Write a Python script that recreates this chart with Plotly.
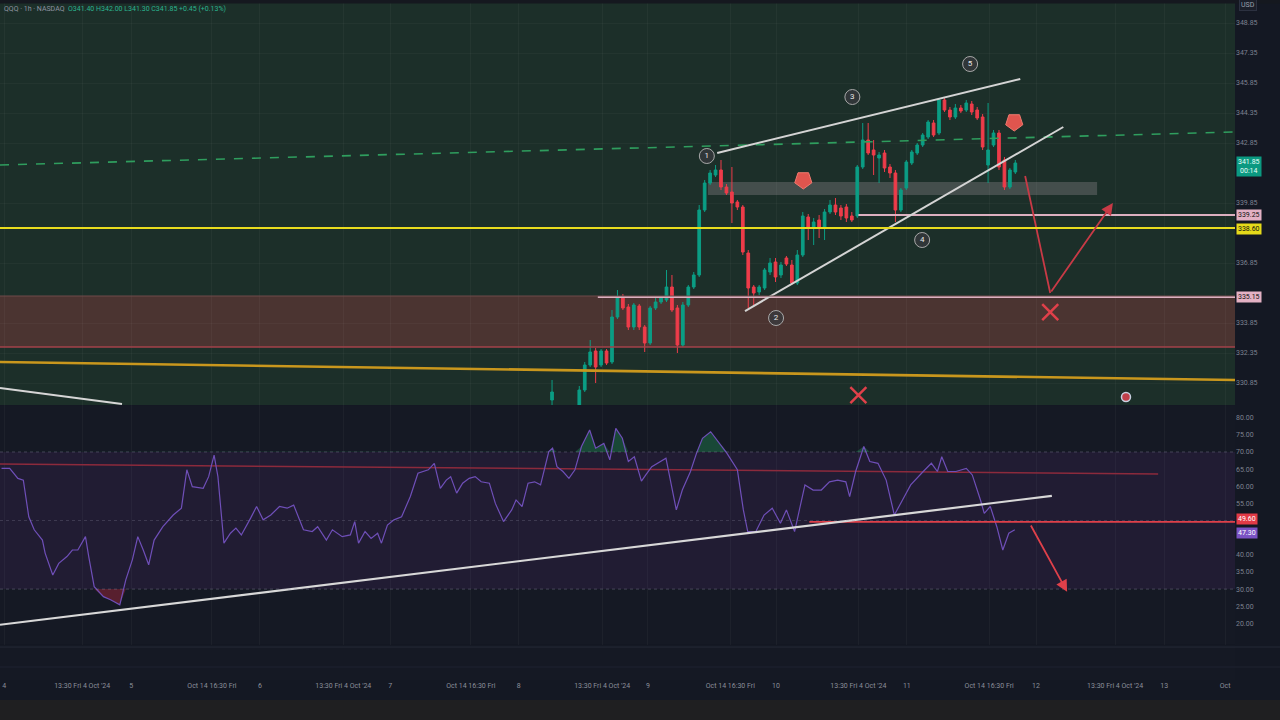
import numpy as np
import plotly.graph_objects as go
from plotly.subplots import make_subplots

# ---- candles (first candle is bar 101, one bar is about 5.45 px) ----
first_bar = 101
opens = [330.00, 329.40, 329.10, 328.90, 329.10, 329.50, 330.50, 331.75, 332.45, 331.75,
         332.45, 331.90, 334.15, 335.15, 334.65, 333.65, 334.70, 333.65, 332.85, 334.60,
         334.90, 335.00, 335.65, 334.60, 332.75, 334.75, 335.65, 336.25, 339.50, 340.85,
         341.25, 341.50, 340.65, 340.40, 339.90, 339.65, 337.35, 335.65, 335.40, 335.60,
         336.40, 336.90, 336.25, 337.10, 336.75, 335.85, 337.25, 339.15, 338.65, 339.00,
         338.65, 339.40, 339.75, 339.60, 339.65, 339.20, 339.20, 341.65, 343.00, 342.50,
         342.10, 342.35, 341.65, 341.35, 339.50, 340.60, 341.85, 342.35, 342.75, 343.15,
         343.85, 343.35, 345.00, 344.50, 344.15, 344.60, 344.50, 344.80, 344.50, 344.15,
         341.75, 342.75, 343.35, 342.00, 340.65, 341.40]
highs = [331.00, 329.60, 329.30, 329.20, 329.50, 330.70, 331.90, 333.00, 332.60, 332.55,
         332.55, 334.50, 335.50, 335.30, 334.80, 334.85, 334.80, 333.75, 334.70, 335.15,
         335.20, 336.50, 336.25, 334.75, 334.90, 335.75, 336.40, 339.75, 341.00, 341.50,
         341.75, 342.00, 340.80, 341.65, 340.00, 339.75, 337.50, 335.75, 335.75, 336.60,
         337.10, 337.10, 336.90, 337.20, 337.00, 337.50, 339.40, 339.30, 339.10, 339.25,
         339.55, 340.00, 340.10, 339.75, 339.80, 339.40, 341.75, 343.85, 343.85, 343.00,
         342.40, 342.50, 341.80, 341.50, 340.60, 342.00, 342.50, 342.85, 343.35, 344.00,
         344.00, 345.10, 345.15, 344.65, 344.80, 344.75, 345.00, 344.95, 344.65, 344.30,
         344.85, 343.50, 343.50, 342.15, 341.60, 342.00]
lows = [329.50, 328.90, 328.70, 328.60, 328.90, 329.25, 330.40, 331.65, 330.85, 331.65,
        331.75, 331.80, 334.05, 334.50, 333.50, 333.50, 333.50, 332.40, 332.75, 334.50,
        334.80, 334.90, 334.40, 332.35, 332.65, 334.65, 335.55, 336.15, 339.40, 340.75,
        341.15, 340.50, 340.25, 338.85, 339.50, 337.25, 334.60, 334.75, 335.25, 335.50,
        336.25, 335.90, 336.10, 336.70, 335.75, 335.75, 337.15, 338.00, 337.75, 338.10,
        338.00, 339.30, 339.25, 339.00, 338.90, 338.90, 339.10, 341.55, 342.25, 341.25,
        340.85, 341.40, 341.10, 338.90, 339.40, 340.50, 341.75, 342.25, 342.65, 343.05,
        343.15, 343.25, 344.40, 344.00, 344.05, 344.35, 344.40, 344.25, 344.00, 342.50,
        340.85, 342.65, 341.50, 340.50, 340.55, 341.30]
closes = [330.40, 329.10, 328.90, 329.10, 329.30, 330.50, 331.75, 332.40, 331.65, 332.45,
          331.85, 334.15, 335.15, 334.60, 333.65, 334.75, 333.65, 332.85, 334.60, 334.90,
          335.10, 335.65, 334.50, 332.75, 334.75, 335.65, 336.25, 339.50, 340.85, 341.35,
          341.50, 340.65, 340.35, 339.85, 339.65, 337.40, 335.60, 335.35, 335.65, 336.50,
          336.85, 336.15, 336.75, 336.80, 335.85, 337.25, 339.20, 338.65, 338.90, 338.65,
          339.40, 339.75, 339.40, 339.20, 339.10, 339.00, 341.65, 343.00, 342.35, 342.25,
          342.25, 341.60, 341.35, 339.50, 340.50, 341.90, 342.40, 342.75, 343.25, 343.90,
          343.25, 345.00, 344.50, 344.15, 344.60, 344.45, 344.85, 344.40, 344.10, 342.65,
          342.50, 343.35, 341.65, 340.65, 341.50, 341.85]
bars = list(range(first_bar, first_bar + len(opens)))

# ---- RSI (read as a polyline) ----
rsi_bar = [0, 1.5, 3, 4, 5, 6, 7.5, 8, 9.4, 10.5,
           12, 13, 14, 15.4, 16, 17, 18.7, 20, 21.7, 22.8,
           24, 25, 26, 27, 28, 29.6, 31.5, 33, 34, 35,
           37, 38, 39, 39.7, 40.8, 42, 43, 44, 45.7, 46.8,
           48, 49.4, 51, 52.4, 53.6, 55.4, 57, 58, 59.6, 60.7,
           62.5, 64, 64.8, 65.5, 66.7, 67.8, 69, 69.7, 70.8, 72,
           73.4, 75, 76.4, 78.3, 79.4, 80.5, 81.6, 82.4, 83.5, 84.6,
           85.8, 86.9, 88, 89.5, 90.6, 92.1, 93.6, 94.4, 95.5, 96.6,
           97.8, 98.9, 100.4, 101.1, 101.9, 103, 104.1, 105.2, 106.4, 107.9,
           109, 110.5, 111.6, 112.7, 113.9, 115, 116.1, 117.4, 118.2, 119.3,
           121.9, 123.8, 124.9, 126.4, 127.5, 128.6, 130.1, 131.3, 133.1, 135,
           136.1, 136.9, 138.4, 139.9, 141.4, 142.9, 144, 145.5, 146.6, 147.4,
           148.9, 150.4, 151.9, 153.4, 154.9, 155.6, 156.7, 158.2, 159.3, 160.8,
           162.3, 163.8, 165.3, 166.8, 169.1, 170.6, 171.7, 172.5, 173.6, 175.1,
           177, 178.1, 179.6, 180.3, 181.4, 182.6, 183.7, 184.8, 185.9]
rsi_val = [65.2, 65.2, 62.3, 61.8, 51.1, 47.3, 44.3, 40.5, 34.1, 37.5,
           39.5, 41.4, 41.4, 45.3, 39.5, 30.7, 27.8, 26.9, 25.4, 32.7,
           38.5, 45.3, 41.4, 37.1, 44.3, 48.2, 51.6, 53.6, 64.8, 59.9,
           59.4, 62.8, 69.1, 62.8, 43.4, 46.3, 47.8, 45.8, 50.7, 54.1,
           50.2, 51.6, 54.1, 53.6, 54.5, 47.3, 46.8, 48.2, 44.3, 47.3,
           45.3, 45.8, 49.7, 43.4, 46.8, 44.8, 46.3, 43.4, 48.7, 50.2,
           51.1, 57.0, 63.8, 64.8, 66.7, 59.4, 61.8, 62.8, 58.0, 60.9,
           62.3, 62.8, 61.3, 60.9, 55.0, 49.7, 53.1, 56.0, 54.1, 60.9,
           61.3, 60.4, 70.1, 71.1, 65.7, 64.3, 62.3, 64.8, 71.6, 76.4,
           71.1, 72.5, 67.7, 76.9, 74.0, 67.2, 68.6, 61.5, 63.3, 65.7,
           68.2, 53.1, 58.9, 64.3, 69.6, 74.0, 75.9, 73.5, 69.6, 64.8,
           53.1, 46.8, 46.8, 51.6, 53.6, 49.2, 53.1, 46.8, 55.0, 60.4,
           58.9, 58.9, 61.3, 61.8, 61.3, 57.0, 64.3, 71.6, 67.2, 66.7,
           61.8, 51.6, 56.0, 60.4, 64.3, 66.7, 64.3, 68.6, 64.3, 64.3,
           65.2, 63.3, 56.0, 52.1, 54.1, 48.2, 41.4, 46.3, 47.3]

# ---- drawings on the price pane ----
x_lo, x_hi = -0.28, 226.3
green_dash_bar = [x_lo, x_hi]
green_dash_price = [341.75, 343.4]
orange_bar = [x_lo, x_hi]
orange_price = [331.9, 331.0]
white_left_bar = [x_lo, 22.1]
white_left_price = [330.6, 329.8]
upper_chan_bar = [131.3, 186.9]
upper_chan_price = [342.35, 346.05]
lower_chan_bar = [136.4, 194.8]
lower_chan_price = [334.45, 343.65]
pink_level_bar = [157.2, x_hi]
pink_level_price = [339.25, 339.25]
zone_top_bar = [109.4, x_hi]
zone_top_price = [335.15, 335.15]
yellow_level = 338.60
zone_low, zone_high = 332.65, 335.2
gray_band_bar = (129.6, 201.0)
gray_band_price = (340.25, 340.9)
red_path_bar = [187.8, 192.4]
red_path_price = [341.2, 335.35]
red_head = (203.9, 339.85)
wave_bar = [129.4, 142.1, 156.1, 168.9, 177.7]
wave_price = [342.2, 334.1, 345.15, 338.0, 346.8]
wave_text = ["1", "2", "3", "4", "5"]
cross_bar = [192.4, 157.2]
cross_price = [334.4, 330.25]
flag_bar = [147.1, 185.8]
flag_price = [341.0, 343.9]
dot_bar = [206.3]
dot_price = [330.15]

# price scale ticks (the ones hidden under coloured labels are left out)
price_ticks = [348.85, 347.35, 345.85, 344.35, 342.85, 339.85,
               336.85, 333.85, 332.35, 330.85]
rsi_ticks = [20, 25, 30, 35, 40, 55, 60, 65, 70, 75, 80]

# ---- drawings on the RSI pane ----
rsi_red_bar = [x_lo, 212.2]
rsi_red_val = [66.5, 63.6]
rsi_trend_bar = [x_lo, 192.7]
rsi_trend_val = [19.6, 57.2]
rsi_level_bar = [148.2, x_hi]
rsi_level_val = [49.6, 49.6]
rsi_arrow_tail = (188.7, 49.0)
rsi_arrow_head = (195.5, 29.2)

# ---- time axis ----
time_bars = [0.5, 14.8, 23.8, 38.6, 47.4, 62.7, 71.3, 86.1, 94.9, 110.2,
             118.6, 133.7, 142.1, 157.2, 166.1, 181.2, 189.8, 204.3, 213.3, 224.5]
time_text = ["4", "13:30 Fri 4 Oct '24", "5", "Oct 14 16:30 Fri", "6",
             "13:30 Fri 4 Oct '24", "7", "Oct 14 16:30 Fri", "8", "13:30 Fri 4 Oct '24",
             "9", "Oct 14 16:30 Fri", "10", "13:30 Fri 4 Oct '24", "11",
             "Oct 14 16:30 Fri", "12", "13:30 Fri 4 Oct '24", "13", "Oct"]

GREEN = "#0b9d84"
RED = "#ee3c4a"
ARROW_RED = "#c83a46"
FONT = "Roboto"
AXIS_TXT = "#7d8190"

fig = make_subplots(rows=3, cols=1, shared_xaxes=True, vertical_spacing=0)

# pane 1 -- price
fig.add_trace(go.Scatter(x=green_dash_bar, y=green_dash_price, mode="lines",
                         line=dict(color="#2f9e5e", width=1.6, dash="dash")), row=1, col=1)
fig.add_trace(go.Scatter(x=orange_bar, y=orange_price, mode="lines",
                         line=dict(color="#c9971d", width=2.6)), row=1, col=1)
fig.add_trace(go.Scatter(x=white_left_bar, y=white_left_price, mode="lines",
                         line=dict(color="#d6d6d6", width=2)), row=1, col=1)
fig.add_trace(go.Scatter(x=zone_top_bar, y=zone_top_price, mode="lines",
                         line=dict(color="#dcb0c0", width=2)), row=1, col=1)
fig.add_trace(go.Scatter(x=pink_level_bar, y=pink_level_price, mode="lines",
                         line=dict(color="#dcb0c0", width=2)), row=1, col=1)

fig.add_trace(go.Candlestick(
    x=bars, open=opens, high=highs, low=lows, close=closes,
    increasing=dict(line=dict(color=GREEN, width=1), fillcolor=GREEN),
    decreasing=dict(line=dict(color=RED, width=1), fillcolor=RED),
    whiskerwidth=0), row=1, col=1)

fig.add_trace(go.Scatter(x=upper_chan_bar, y=upper_chan_price, mode="lines",
                         line=dict(color="#d4d4d4", width=2)), row=1, col=1)
fig.add_trace(go.Scatter(x=lower_chan_bar, y=lower_chan_price, mode="lines",
                         line=dict(color="#d4d4d4", width=2)), row=1, col=1)
fig.add_trace(go.Scatter(x=red_path_bar, y=red_path_price, mode="lines",
                         line=dict(color=ARROW_RED, width=1.8)), row=1, col=1)
fig.add_trace(go.Scatter(x=wave_bar, y=wave_price, mode="markers+text", text=wave_text,
                         textposition="middle center",
                         textfont=dict(color="#e6e6e6", size=8, family=FONT),
                         marker=dict(size=15, color="rgba(55,58,62,0.75)",
                                     line=dict(color="#a8a8a8", width=1))), row=1, col=1)
fig.add_trace(go.Scatter(x=cross_bar, y=cross_price, mode="markers",
                         marker=dict(symbol="x-thin", size=16,
                                     line=dict(color="#e0404a", width=2.5))), row=1, col=1)
fig.add_trace(go.Scatter(x=flag_bar, y=flag_price, mode="markers",
                         marker=dict(symbol="pentagon", angle=180, size=18, color="#e0554e",
                                     line=dict(color="#f07a70", width=1))), row=1, col=1)
fig.add_trace(go.Scatter(x=dot_bar, y=dot_price, mode="markers",
                         marker=dict(size=9, color="#c0404a",
                                     line=dict(color="#c8d0e0", width=1.5))), row=1, col=1)

# pane 2 -- RSI
rsi_arr = np.array(rsi_val)
fig.add_trace(go.Scatter(x=rsi_bar, y=[70] * len(rsi_bar), mode="lines",
                         line=dict(width=0), hoverinfo="skip"), row=2, col=1)
fig.add_trace(go.Scatter(x=rsi_bar, y=np.maximum(rsi_arr, 70), mode="lines",
                         line=dict(width=0), fill="tonexty",
                         fillcolor="rgba(30,130,80,0.45)", hoverinfo="skip"), row=2, col=1)
fig.add_trace(go.Scatter(x=rsi_bar, y=[30] * len(rsi_bar), mode="lines",
                         line=dict(width=0), hoverinfo="skip"), row=2, col=1)
fig.add_trace(go.Scatter(x=rsi_bar, y=np.minimum(rsi_arr, 30), mode="lines",
                         line=dict(width=0), fill="tonexty",
                         fillcolor="rgba(170,40,60,0.45)", hoverinfo="skip"), row=2, col=1)
fig.add_trace(go.Scatter(x=rsi_red_bar, y=rsi_red_val, mode="lines",
                         line=dict(color="#8c2a3c", width=1.5)), row=2, col=1)
fig.add_trace(go.Scatter(x=rsi_bar, y=rsi_val, mode="lines",
                         line=dict(color="#6f4fb8", width=1.2)), row=2, col=1)
fig.add_trace(go.Scatter(x=rsi_level_bar, y=rsi_level_val, mode="lines",
                         line=dict(color="#e0404a", width=1.6)), row=2, col=1)
fig.add_trace(go.Scatter(x=rsi_trend_bar, y=rsi_trend_val, mode="lines",
                         line=dict(color="#d8d8d8", width=2.2)), row=2, col=1)

# pane 3 -- empty strip holding the time labels
fig.add_trace(go.Scatter(x=[x_lo], y=[0], mode="markers", marker=dict(opacity=0),
                         hoverinfo="skip"), row=3, col=1)

shapes = [
    # pane backgrounds
    dict(type="rect", xref="x domain", yref="y domain", x0=0, x1=1, y0=0, y1=1,
         fillcolor="#1c2f29", line=dict(width=0), layer="below"),
    dict(type="rect", xref="x2 domain", yref="y2", x0=0, x1=1, y0=30, y1=70,
         fillcolor="#211c33", line=dict(width=0), layer="below"),
    # supply / demand zone
    dict(type="rect", xref="x domain", yref="y", x0=0, x1=1, y0=zone_low, y1=zone_high,
         fillcolor="#4b3431", line=dict(width=0), layer="below"),
    dict(type="line", xref="x domain", yref="y", x0=0, x1=1, y0=zone_low, y1=zone_low,
         line=dict(color="#a3424a", width=1.5)),
    dict(type="line", xref="x domain", yref="y", x0=0, x1=1, y0=zone_high, y1=zone_high,
         line=dict(color="#6e4a4a", width=1)),
    # gray band
    dict(type="rect", xref="x", yref="y", x0=gray_band_bar[0], x1=gray_band_bar[1],
         y0=gray_band_price[0], y1=gray_band_price[1],
         fillcolor="rgba(95,100,100,0.6)", line=dict(width=0), layer="below"),
    # yellow level
    dict(type="line", xref="x domain", yref="y", x0=0, x1=1, y0=yellow_level, y1=yellow_level,
         line=dict(color="#e8dc1e", width=2)),
    # RSI guide lines
    dict(type="line", xref="x2 domain", yref="y2", x0=0, x1=1, y0=70, y1=70,
         line=dict(color="rgba(150,150,175,0.35)", width=1, dash="dot")),
    dict(type="line", xref="x2 domain", yref="y2", x0=0, x1=1, y0=50, y1=50,
         line=dict(color="rgba(150,150,175,0.25)", width=1, dash="dot")),
    dict(type="line", xref="x2 domain", yref="y2", x0=0, x1=1, y0=30, y1=30,
         line=dict(color="rgba(150,150,175,0.35)", width=1, dash="dot")),
    # separators and bottom strip
    dict(type="line", xref="paper", yref="paper", x0=0, x1=1.0365, y0=0.0485, y1=0.0485,
         line=dict(color="#252a36", width=1)),
    dict(type="line", xref="paper", yref="paper", x0=0, x1=1.0365, y0=0.0191, y1=0.0191,
         line=dict(color="#1e2230", width=1)),
    dict(type="rect", xref="paper", yref="paper", x0=0, x1=1.0365, y0=-0.06, y1=-0.0294,
         fillcolor="#1f1f21", line=dict(width=0)),
    dict(type="rect", xref="paper", yref="paper", x0=0, x1=1.0365, y0=1.0, y1=0.995,
         fillcolor="#15181f", line=dict(width=0)),
]


def axis_label(text, y, yref, bg, fg="#111111", yshift=0):
    return dict(text=text, xref="paper", x=1.0, xanchor="left", xshift=1,
                yref=yref, y=y, yanchor="middle", yshift=yshift, showarrow=False,
                bgcolor=bg, borderpad=1, font=dict(color=fg, size=7, family=FONT))


annotations = [
    # red arrow heads
    dict(x=red_head[0], y=red_head[1], xref="x", yref="y",
         ax=red_path_bar[1], ay=red_path_price[1], axref="x", ayref="y",
         showarrow=True, arrowhead=2, arrowsize=1.3, arrowwidth=1.8,
         arrowcolor=ARROW_RED, text=""),
    dict(x=rsi_arrow_head[0], y=rsi_arrow_head[1], xref="x2", yref="y2",
         ax=rsi_arrow_tail[0], ay=rsi_arrow_tail[1], axref="x2", ayref="y2",
         showarrow=True, arrowhead=2, arrowsize=1.3, arrowwidth=1.8,
         arrowcolor="#e0404a", text=""),
    # price scale labels
    axis_label("341.85<br>00:14", closes[-1], "y", "#0b9981", "#e8fff8", yshift=-3),
    axis_label("339.25", pink_level_price[0], "y", "#e3b1c4"),
    axis_label("338.60", yellow_level, "y", "#e6da1a", yshift=-1),
    axis_label("335.15", zone_top_price[0], "y", "#e3b1c4"),
    axis_label("49.60", rsi_level_val[0], "y2", "#e23a46", "#ffffff", yshift=3),
    axis_label("47.30", rsi_val[-1], "y2", "#7a52c4", "#ffffff", yshift=-3),
    dict(text="USD", xref="paper", x=1.0, xanchor="left", xshift=4, yref="paper",
         y=0.992, yanchor="middle", showarrow=False, bgcolor="#1b1f2a",
         bordercolor="#2c3140", borderpad=1, font=dict(color="#9aa0ad", size=7, family=FONT)),
    # legend line
    dict(text="QQQ · 1h · NASDAQ  <span style='color:#2bb38f'>O341.40 H342.00 L341.30 "
              "C341.85 +0.45 (+0.13%)</span>",
         xref="paper", x=0.002, xanchor="left", yref="paper", y=0.987, yanchor="middle",
         showarrow=False, font=dict(color="#8e93a0", size=7, family=FONT)),
]

fig.update_layout(
    width=1280, height=720,
    margin=dict(l=0, r=45, t=0, b=40),
    paper_bgcolor="#141823", plot_bgcolor="#151924",
    showlegend=False, shapes=shapes, annotations=annotations,
    font=dict(family=FONT, color=AXIS_TXT, size=7),
)

for ax in ["xaxis", "xaxis2", "xaxis3"]:
    fig.layout[ax].update(range=[x_lo, x_hi], tickmode="array", tickvals=time_bars,
                          showgrid=True, gridcolor="rgba(255,255,255,0.035)",
                          zeroline=False, showline=False, rangeslider=dict(visible=False))
fig.layout.xaxis3.update(ticktext=time_text, showgrid=False, ticks="",
                         tickfont=dict(size=7, color="#8b8f9a", family=FONT))

fig.update_layout(
    yaxis=dict(domain=[0.4044, 1], range=[329.75, 350.0], side="right",
               tickmode="array", tickvals=price_ticks, tickformat=".2f",
               showgrid=True, gridcolor="rgba(255,255,255,0.03)", zeroline=False,
               tickfont=dict(size=7, color=AXIS_TXT)),
    yaxis2=dict(domain=[0.0515, 0.4044], range=[13.7, 83.7], side="right",
                tickmode="array", tickvals=rsi_ticks, tickformat=".2f",
                showgrid=False, zeroline=False, tickfont=dict(size=7, color=AXIS_TXT)),
    yaxis3=dict(domain=[0, 0.0515], range=[0, 1], visible=False),
)

# the page itself has an 8px body margin by default; drop it so the chart fills the window
fig.write_html("out.html",
               config={"displayModeBar": False},
               post_script="document.body.style.margin='0';"
                           "document.body.style.background='#141823';")
